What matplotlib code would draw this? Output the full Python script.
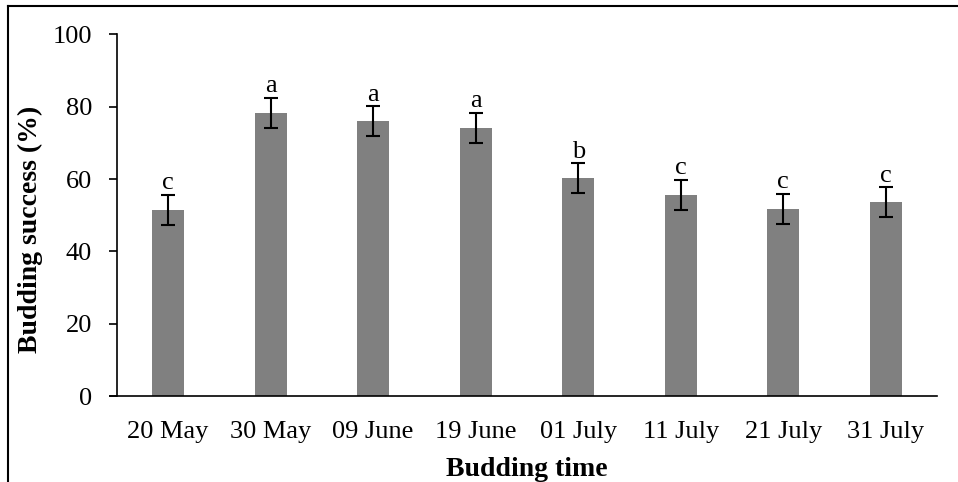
import numpy as np
import matplotlib.pyplot as plt
from matplotlib.lines import Line2D

# ============================
# Data
# ============================

dates = ['20 May', '30 May', '09 June', '19 June', '01 July', '11 July', '21 July', '31 July']
success = [51.5, 78.2, 76.0, 74.1, 60.2, 55.6, 51.7, 53.6]
errors = [4.2, 4.2, 4.1, 4.1, 4.1, 4.1, 4.1, 4.1]
letters = ['c', 'a', 'a', 'a', 'b', 'c', 'c', 'c']

plt.rcParams['font.family'] = ['Liberation Serif', 'DejaVu Serif']

# ============================
# Plot
# ============================

fig = plt.figure(figsize=(9.58, 4.82), dpi=100)
ax = fig.add_axes([0.122, 0.178, 0.856, 0.751])

x = np.arange(len(dates))
ax.bar(x, success, width=0.31, color='#808080', zorder=2)
ax.errorbar(x, success, yerr=errors, fmt='none', ecolor='black',
            elinewidth=1.5, capsize=5, capthick=1.5, zorder=3)

for xi, v, e, lab in zip(x, success, errors, letters):
    ax.text(xi, v + e + 0.2, lab, ha='center', va='bottom', fontsize=19)

ax.set_xlim(-0.5, len(dates) - 0.5)
ax.set_ylim(0, 100)
ax.set_yticks([0, 20, 40, 60, 80, 100])
ax.set_xticks(x)
ax.set_xticklabels(dates)
ax.tick_params(axis='y', labelsize=19, length=6, width=1.2, pad=12)
ax.tick_params(axis='x', labelsize=19, length=0, pad=18)

for side in ['top', 'right']:
    ax.spines[side].set_visible(False)
ax.spines['left'].set_linewidth(1.2)
ax.spines['bottom'].set_linewidth(1.2)
ax.spines['bottom'].set_bounds(-0.568, len(dates) - 0.5)
ax.spines['bottom'].set_clip_on(False)

ax.set_xlabel('Budding time', fontsize=20, fontweight='bold', labelpad=10)
ax.set_ylabel('Budding success (%)', fontsize=20, fontweight='bold')
ax.yaxis.set_label_coords(-0.09, 0.46)

# partial frame around the figure
fig.add_artist(Line2D([0.0085, 1.0], [0.988, 0.988], color='black', lw=1.5, transform=fig.transFigure))
fig.add_artist(Line2D([0.0085, 0.0085], [0.0, 0.988], color='black', lw=1.5, transform=fig.transFigure))

plt.savefig('out.png', dpi=100)
